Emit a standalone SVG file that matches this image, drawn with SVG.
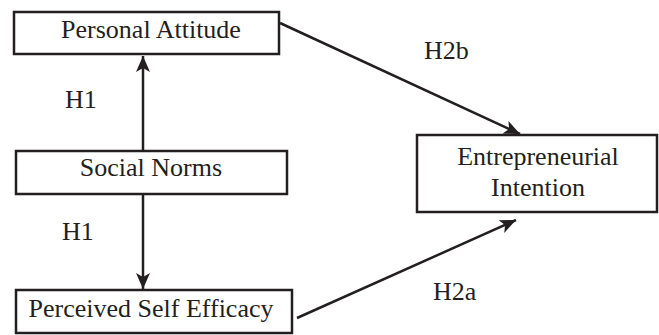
<svg xmlns="http://www.w3.org/2000/svg" width="659" height="335" viewBox="0 0 659 335">
<style>
.box{fill:#fff;stroke:#231f20;stroke-width:2.5}
.lbl{font-family:"Liberation Serif","Times New Roman",serif;font-size:26px;fill:#231f20;text-anchor:middle}
.hyp{font-family:"Liberation Serif","Times New Roman",serif;font-size:26px;fill:#231f20}
.edge{stroke:#231f20;stroke-width:2.5;fill:none;marker-end:url(#ah)}
</style>
<defs>
<marker id="ah" markerUnits="userSpaceOnUse" markerWidth="18" markerHeight="14" refX="16" refY="7" orient="auto">
<path d="M0,0 L16,7 L0,14 L4,7 Z" fill="#231f20"/>
</marker>
</defs>
<g id="connectors">
<line class="edge" x1="143" y1="150" x2="143" y2="56"/>
<line class="edge" x1="143" y1="195" x2="143" y2="289"/>
<line class="edge" x1="280" y1="23" x2="520" y2="134"/>
<line class="edge" x1="297" y1="318" x2="516" y2="220"/>
</g>
<g id="personal-attitude">
<rect class="box" x="14" y="12" width="265" height="42"/>
<text class="lbl" x="151" y="38">Personal Attitude</text>
</g>
<g id="social-norms">
<rect class="box" x="16" y="151" width="271" height="43"/>
<text class="lbl" x="151" y="176">Social Norms</text>
</g>
<g id="perceived-self-efficacy">
<rect class="box" x="16" y="290" width="276" height="43"/>
<text class="lbl" x="151" y="317">Perceived Self Efficacy</text>
</g>
<g id="entrepreneurial-intention">
<rect class="box" x="417" y="135" width="240" height="77"/>
<text class="lbl" x="538" y="165">Entrepreneurial</text>
<text class="lbl" x="538" y="196">Intention</text>
</g>
<g id="labels">
<text class="hyp" x="65" y="108">H1</text>
<text class="hyp" x="62" y="240">H1</text>
<text class="hyp" x="424" y="59">H2b</text>
<text class="hyp" x="433" y="300">H2a</text>
</g>
</svg>
